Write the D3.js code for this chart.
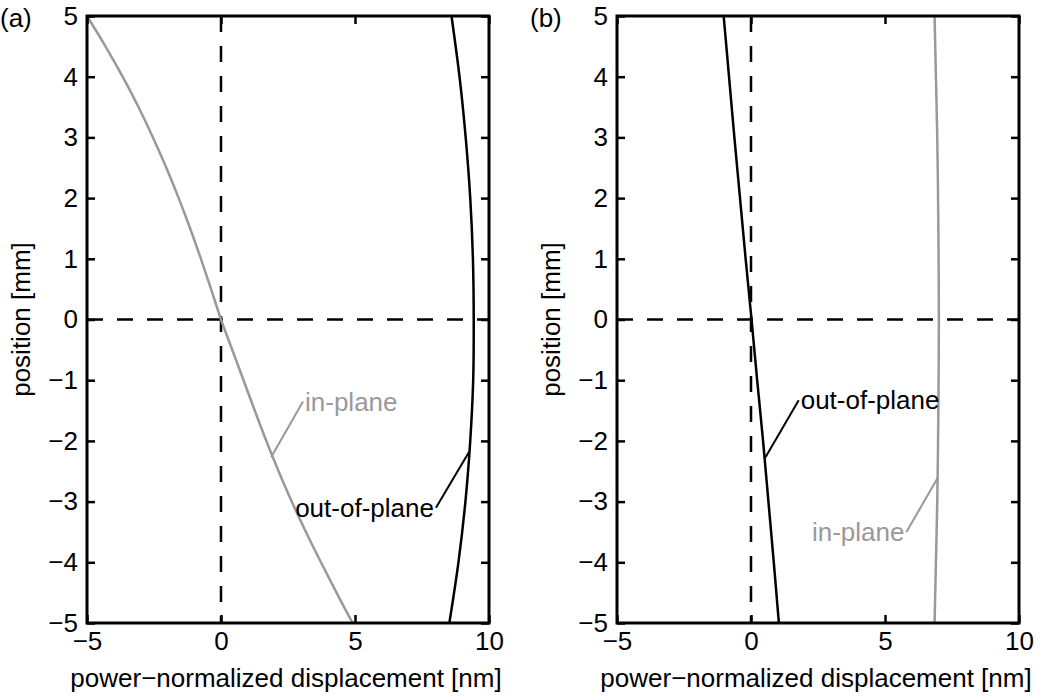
<!DOCTYPE html>
<html>
<head>
<meta charset="utf-8">
<script src="https://cdn.jsdelivr.net/npm/d3@7"></script>
<style>
    body { margin: 0; background: #fff; }
    svg text { font-family: "Liberation Sans", Arial, Helvetica, sans-serif; }
</style>
</head>
<body>
<div id="chart"></div>
<script>
// position along the sample [mm]
const posFine = [5, 4.5, 4, 3.5, 3, 2.5, 2, 1.5, 1, 0.5, 0, -0.5, -1, -1.5, -2, -2.5, -3, -3.5, -4, -4.5, -5];
const posCoarse = [5, 4, 3, 2, 1, 0, -1, -2, -3, -4, -5];

// panel (a) displacements [nm]
const aInPlane = [-5.0, -4.31, -3.67, -3.08, -2.54, -2.04, -1.58, -1.15, -0.75, -0.37, 0, 0.42, 0.84, 1.26, 1.69, 2.15, 2.64, 3.17, 3.73, 4.31, 4.91];
const aOutOfPlane = [8.6, 8.9, 9.13, 9.3, 9.4, 9.43, 9.41, 9.3, 9.12, 8.86, 8.52];

// panel (b) displacements [nm]
const bOutOfPlane = [-1.02, -0.82, -0.62, -0.41, -0.2, 0.02, 0.23, 0.45, 0.65, 0.85, 1.04];
const bInPlane = [6.85, 6.9, 6.95, 6.98, 7.0, 7.01, 7.0, 6.98, 6.95, 6.9, 6.85];

const xTicks = [-5, 0, 5, 10];
const yTicks = [5, 4, 3, 2, 1, 0, -1, -2, -3, -4, -5];

// leader labels: [text, color, curve x, curve y, text x, text y, anchor]
const aLabels = [
    ['in-plane', '#999999', 1.87, -2.27, 3.06, -1.35, 'start'],
    ['out-of-plane', '#000000', 9.26, -2.18, 8.02, -3.1, 'end']
];
const bLabels = [
    ['out-of-plane', '#000000', 0.54, -2.27, 1.78, -1.33, 'start'],
    ['in-plane', '#999999', 6.99, -2.59, 5.8, -3.5, 'end']
];

const W = 1051, H = 700;
const FONT = 26;

const svg = d3.select('#chart')
    .append('svg')
    .attr('width', W)
    .attr('height', H);

function drawPanel(opts) {
    const x = d3.scaleLinear().domain([-5, 10]).range([opts.left, opts.right]);
    const y = d3.scaleLinear().domain([-5, 5]).range([623, 16]);
    const g = svg.append('g');

    // dashed zero lines
    g.append('line')
        .attr('x1', x(0)).attr('x2', x(0))
        .attr('y1', y(5)).attr('y2', y(-5))
        .attr('stroke', '#000').attr('stroke-width', 2.5)
        .attr('stroke-dasharray', '16,14');
    g.append('line')
        .attr('x1', x(-5)).attr('x2', x(10))
        .attr('y1', y(0)).attr('y2', y(0))
        .attr('stroke', '#000').attr('stroke-width', 2.5)
        .attr('stroke-dasharray', '16,14');

    const line = d3.line()
        .x(d => x(d[0]))
        .y(d => y(d[1]))
        .curve(d3.curveCatmullRom);

    opts.series.forEach(s => {
        g.append('path')
            .datum(s.pos.map((p, i) => [s.values[i], p]))
            .attr('d', line)
            .attr('fill', 'none')
            .attr('stroke', s.color)
            .attr('stroke-width', 2.5);
    });

    // leader labels
    opts.labels.forEach(l => {
        g.append('line')
            .attr('x1', x(l[2])).attr('y1', y(l[3]))
            .attr('x2', x(l[4])).attr('y2', y(l[5]))
            .attr('stroke', l[1]).attr('stroke-width', 2);
        g.append('text')
            .attr('x', x(l[4]) + (l[6] === 'start' ? 2 : -2))
            .attr('y', y(l[5]))
            .attr('dy', '0.35em')
            .attr('text-anchor', l[6])
            .attr('font-size', FONT)
            .attr('fill', l[1])
            .text(l[0]);
    });

    // axes with inward ticks on all four sides
    const axes = [
        [d3.axisBottom(x).tickValues(xTicks), `translate(0,${y(-5)})`, true],
        [d3.axisTop(x).tickValues(xTicks), `translate(0,${y(5)})`, false],
        [d3.axisLeft(y).tickValues(yTicks), `translate(${x(-5)},0)`, true],
        [d3.axisRight(y).tickValues(yTicks), `translate(${x(10)},0)`, false]
    ];
    axes.forEach(([ax, tr, showText]) => {
        const a = g.append('g')
            .attr('transform', tr)
            .call(ax.tickSize(-8).tickPadding(9));
        a.select('.domain').remove();
        a.selectAll('line').attr('stroke', '#000').attr('stroke-width', 2.5);
        a.selectAll('text')
            .attr('font-size', FONT)
            .attr('fill', '#000')
            .style('font-family', '"Liberation Sans", Arial, sans-serif');
        if (!showText) a.selectAll('text').remove();
    });

    g.append('rect')
        .attr('x', x(-5)).attr('y', y(5))
        .attr('width', x(10) - x(-5))
        .attr('height', y(-5) - y(5))
        .attr('fill', 'none')
        .attr('stroke', '#000')
        .attr('stroke-width', 3);

    g.append('text')
        .attr('x', (x(-5) + x(10)) / 2 - 2)
        .attr('y', 687)
        .attr('text-anchor', 'middle')
        .attr('font-size', FONT)
        .text('power\u2212normalized displacement [nm]');

    g.append('text')
        .attr('transform', `translate(${opts.left - 57},${y(0)}) rotate(-90)`)
        .attr('text-anchor', 'middle')
        .attr('font-size', FONT)
        .text('position [mm]');

    g.append('text')
        .attr('x', opts.left - 87)
        .attr('y', 27)
        .attr('font-size', FONT)
        .text(opts.tag);
}

drawPanel({
    left: 87, right: 489, tag: '(a)',
    series: [
        { pos: posFine, values: aInPlane, color: '#999999' },
        { pos: posCoarse, values: aOutOfPlane, color: '#000000' }
    ],
    labels: aLabels
});

drawPanel({
    left: 617, right: 1019, tag: '(b)',
    series: [
        { pos: posCoarse, values: bOutOfPlane, color: '#000000' },
        { pos: posCoarse, values: bInPlane, color: '#999999' }
    ],
    labels: bLabels
});
</script>
</body>
</html>
